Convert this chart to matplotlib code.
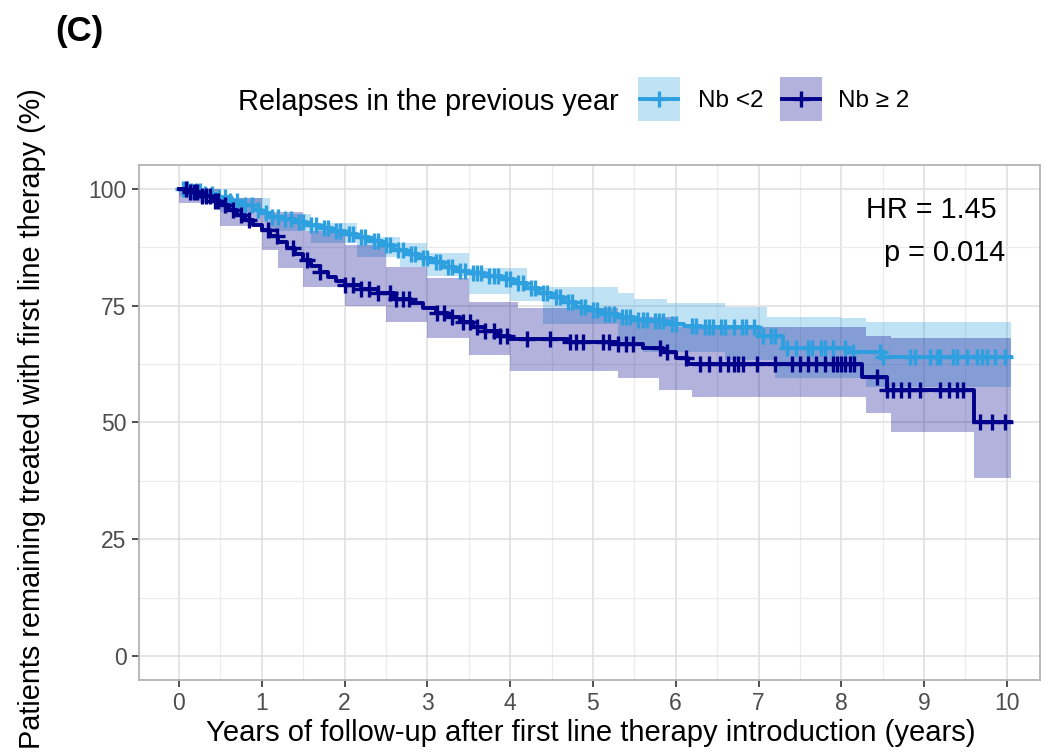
import numpy as np
import matplotlib
matplotlib.use('Agg')
import matplotlib.pyplot as plt
from matplotlib.patches import Rectangle
from matplotlib.lines import Line2D

plt.rcParams['font.family'] = ['Liberation Sans', 'DejaVu Sans']

# Kaplan-Meier steps, group Nb <2
low_t = [0, 0.15, 0.3, 0.45, 0.6, 0.75, 0.9, 1.0, 1.1, 1.25, 1.4, 1.55, 1.7, 1.85,
         2.0, 2.15, 2.3, 2.45, 2.6, 2.75, 2.9, 3.05, 3.2, 3.35, 3.5, 3.7, 3.9, 4.05,
         4.2, 4.35, 4.5, 4.65, 4.8, 4.95, 5.1, 5.3, 5.5, 5.7, 5.9, 6.1, 6.3, 7.0,
         7.3, 8.1, 8.5, 10.05]
low_s = [100, 99.5, 98.8, 98.2, 97.5, 96.5, 95.5, 94.8, 94.0, 93.5, 92.8, 92.2, 91.6, 91.0,
         90.3, 89.6, 88.8, 87.9, 86.8, 86.0, 85.2, 84.3, 83.3, 82.5, 82.0, 81.3, 80.6, 79.8,
         78.8, 77.8, 76.8, 75.8, 74.8, 74.0, 73.2, 72.6, 72.0, 71.6, 71.0, 70.6, 70.4, 68.5,
         66.0, 65.0, 64.0, 64.0]
# confidence band, group Nb <2
low_ci_t = [0, 0.5, 1.1, 1.6, 2.15, 2.67, 3.0, 3.5, 4.0, 4.2, 4.4, 5.3, 5.5, 5.6, 5.9,
            6.6, 7.1, 7.2, 8.0, 8.3, 10.05]
low_ci_hi = [100, 98, 94.7, 92.7, 89.7, 88.3, 86.2, 83, 83, 79, 79, 77.7, 76.5, 76.5, 75.6,
             74.7, 72.6, 72.6, 72.4, 71.5, 71.5]
low_ci_lo = [98.5, 95, 91, 88.4, 85.5, 83.3, 81.3, 77.5, 76, 76, 71, 67, 67, 65, 65,
             63.3, 63.3, 59.5, 59.5, 57.6, 57.6]
low_cens = [0.05, 0.1, 0.15, 0.2, 0.25, 0.32, 0.4, 0.48, 0.55, 0.62, 0.7, 0.8, 0.88, 0.95,
            1.05, 1.12, 1.2, 1.28, 1.35, 1.45, 1.5, 1.6, 1.65, 1.75, 1.8, 1.9, 1.95, 2.05,
            2.1, 2.2, 2.25, 2.35, 2.4, 2.5, 2.55, 2.65, 2.7, 2.8, 2.85, 2.95, 3.0, 3.1,
            3.15, 3.25, 3.3, 3.4, 3.45, 3.55, 3.6, 3.65, 3.75, 3.8, 3.85, 3.95, 4.0, 4.1,
            4.15, 4.25, 4.3, 4.4, 4.45, 4.55, 4.6, 4.7, 4.75, 4.85, 4.9, 5.0, 5.05, 5.15,
            5.2, 5.25, 5.35, 5.4, 5.45, 5.55, 5.6, 5.65, 5.75, 5.8, 5.85, 5.95, 6.0, 6.2,
            6.25, 6.35, 6.4, 6.45, 6.55, 6.6, 6.7, 6.8, 6.85, 6.95, 7.05, 7.15, 7.2, 7.35,
            7.45, 7.6, 7.65, 7.75, 7.8, 7.9, 8.05, 8.14, 8.47, 8.5, 8.83, 8.89, 9.07, 9.15,
            9.19, 9.35, 9.4, 9.52, 9.64, 9.7, 9.76, 9.86, 9.98]

# Kaplan-Meier steps, group Nb >= 2
high_t = [0, 0.1, 0.25, 0.4, 0.5, 0.6, 0.7, 0.8, 0.9, 1.0, 1.1, 1.2, 1.3, 1.4, 1.5,
          1.6, 1.7, 1.8, 1.9, 2.0, 2.2, 2.4, 2.6, 2.8, 2.95, 3.1, 3.25, 3.4, 3.55, 3.7,
          3.85, 4.0, 4.7, 5.3, 5.6, 5.85, 6.0, 6.15, 8.25, 8.55, 9.6, 10.05]
high_s = [100, 99.3, 98.5, 97.5, 96.5, 95.5, 94.5, 93.3, 92.2, 91.2, 89.8, 88.6, 87.3, 86.0, 84.7,
          83.5, 82.3, 81.2, 80.2, 79.5, 78.5, 77.6, 76.5, 75.5, 74.5, 73.5, 72.5, 71.5, 70.5, 69.5,
          68.6, 67.8, 67.3, 66.8, 66.0, 65.0, 63.8, 62.4, 59.8, 57.0, 50.0, 50.0]
# confidence band, group Nb >= 2
high_ci_t = [0, 0.5, 1.0, 1.2, 1.5, 2.0, 2.5, 3.0, 3.5, 4.0, 4.1, 5.3, 5.8, 6.0, 6.2,
             8.3, 8.6, 9.6, 10.05]
high_ci_hi = [100, 98, 95, 95, 91, 88, 83.3, 81, 75.8, 75.8, 74.5, 72.5, 72.5, 70.5, 70.5,
              68.5, 68, 68, 68]
high_ci_lo = [97, 92, 87, 83, 79, 75, 71.5, 68, 64.5, 61, 61, 59.4, 57, 57, 55.5,
              52, 48, 38, 38]
high_cens = [0.08, 0.13, 0.18, 0.22, 0.28, 0.33, 0.38, 0.43, 0.47, 0.55, 0.65, 0.75, 0.85,
             1.08, 1.18, 1.38, 1.55, 1.7, 2.0, 2.1, 2.2, 2.3, 2.4, 2.55, 2.62, 2.7, 2.78,
             3.12, 3.2, 3.3, 3.43, 3.51, 3.6, 3.7, 3.8, 3.88, 3.96, 4.2, 4.48, 4.72, 4.8,
             4.88, 5.12, 5.2, 5.3, 5.4, 5.48, 5.81, 5.9, 6.13, 6.29, 6.4, 6.53, 6.63, 6.7,
             6.75, 6.81, 6.98, 7.2, 7.4, 7.5, 7.6, 7.7, 7.8, 7.9, 7.95, 8.0, 8.05, 8.1,
             8.15, 8.43, 8.55, 8.62, 8.72, 8.82, 8.95, 9.19, 9.3, 9.4, 9.47, 9.67, 9.82, 9.98]

x_ticks = [0, 1, 2, 3, 4, 5, 6, 7, 8, 9, 10]
y_ticks = [0, 25, 50, 75, 100]
group_labels = ['Nb <2', 'Nb \u2265 2']

col_low = '#2E9FDF'
col_high = '#00008B'
W, H = 1044, 755
LW, MS, MEW = 2.8, 12, 2.4


def step_at(ts, ss, x):
    idx = np.searchsorted(ts, x, side='right') - 1
    return np.asarray(ss)[idx]


def fx(px):
    return px / W


def fy(py):
    return 1 - py / H


fig = plt.figure(figsize=(W / 100, H / 100), dpi=100)
ax = fig.add_axes([fx(139), fy(680), (1040 - 139) / W, (680 - 165) / H])

ax.fill_between(low_ci_t, low_ci_lo, low_ci_hi, step='post', color=col_low, alpha=0.3, lw=0)
ax.fill_between(high_ci_t, high_ci_lo, high_ci_hi, step='post', color=col_high, alpha=0.3, lw=0)

ax.step(low_t, low_s, where='post', color=col_low, lw=LW)
ax.plot(low_cens, step_at(low_t, low_s, low_cens), ls='none', marker='+',
        color=col_low, ms=MS, mew=MEW)
ax.step(high_t, high_s, where='post', color=col_high, lw=LW)
ax.plot(high_cens, step_at(high_t, high_s, high_cens), ls='none', marker='+',
        color=col_high, ms=MS, mew=MEW)

ax.set_xlim(-0.483, 10.4)
ax.set_ylim(-5.14, 105.1)
ax.set_xticks(x_ticks)
ax.set_yticks(y_ticks)
ax.set_xticks(np.arange(0.5, 10.5, 1), minor=True)
ax.set_yticks([12.5, 37.5, 62.5, 87.5], minor=True)
ax.grid(True, which='major', color='#dedede', lw=1.1)
ax.grid(True, which='minor', color='#ebebeb', lw=0.8)
ax.set_axisbelow(True)
ax.tick_params(which='major', length=5, width=1.2, color='#333333',
               labelsize=16.5, labelcolor='#4d4d4d', pad=4)
ax.tick_params(which='minor', length=0)
for sp in ax.spines.values():
    sp.set_color('#b3b3b3')
    sp.set_linewidth(1.3)

ax.set_xlabel('Years of follow-up after first line therapy introduction (years)', fontsize=21)
ax.xaxis.set_label_coords((591 - 139) / 901, (680 - 719) / 515)
ax.set_ylabel('Patients remaining treated with first line therapy (%)', fontsize=20.8)
ax.yaxis.set_label_coords((46 - 139) / 901, (680 - 419) / 515)

ax.text(9.88, 95.5, 'HR = 1.45', ha='right', va='center', fontsize=20.8)
ax.text(9.98, 86.3, 'p = 0.014', ha='right', va='center', fontsize=20.8)

fig.text(fx(55), fy(32), '(C)', fontsize=25, fontweight='bold', va='center')

# legend on top, drawn by hand in figure pixels
fig.text(fx(238), fy(102), 'Relapses in the previous year', fontsize=20.8, va='center')
for left, col, lab, tx in [(638, col_low, group_labels[0], 698),
                           (780, col_high, group_labels[1], 838)]:
    fig.add_artist(Rectangle((fx(left), fy(121)), 42 / W, 44 / H, transform=fig.transFigure,
                             facecolor=col, alpha=0.3, lw=0))
    fig.add_artist(Line2D([fx(left + 2), fx(left + 40)], [fy(99), fy(99)],
                          transform=fig.transFigure, color=col, lw=LW))
    fig.add_artist(Line2D([fx(left + 21)], [fy(99)], transform=fig.transFigure,
                          color=col, marker='+', ms=MS, mew=MEW, ls='none'))
    fig.text(fx(tx), fy(101), lab, fontsize=17.5, va='center')

fig.savefig('out.png', dpi=100)
